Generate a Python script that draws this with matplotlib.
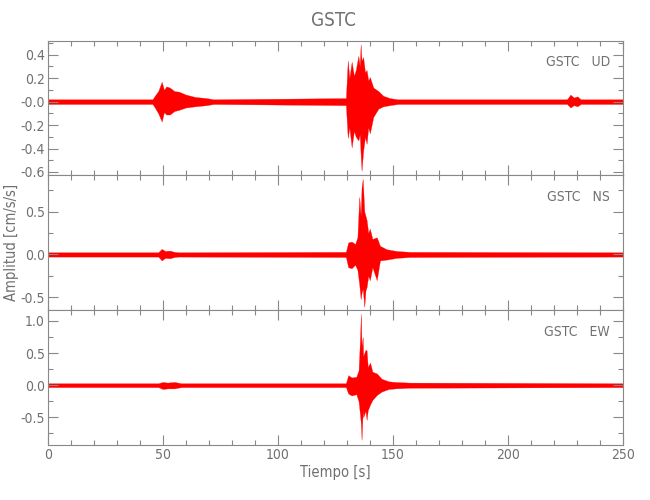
import matplotlib
matplotlib.use("Agg")
import matplotlib.pyplot as plt
from matplotlib.ticker import MultipleLocator, FixedLocator, FixedFormatter

plt.rcParams['font.family'] = ['DejaVu Sans']
plt.rcParams['font.stretch'] = 'condensed'

station = "GSTC"
components = ["UD", "NS", "EW"]

# envelope of each trace (seconds, upper / lower amplitude in cm/s/s)
t_ud = [0, 45.5, 46.5, 48, 49.5, 50.5, 51.5, 53, 55, 57, 60, 64, 69, 72,
        129.5, 130.3, 131, 132, 133, 133.8, 134.9, 135.5, 135.9, 136.3, 137,
        137.8, 138.5, 139.2, 139.9, 141.4, 143.6, 145.7, 148.6, 152,
        225.5, 227, 228.5, 230, 231.5, 250]
up_ud = [0.02, 0.02, 0.05, 0.09, 0.17, 0.10, 0.13, 0.12, 0.09, 0.085, 0.06, 0.04, 0.03, 0.02,
         0.03, 0.35, 0.20, 0.34, 0.22, 0.27, 0.39, 0.30, 0.49, 0.35, 0.38,
         0.25, 0.27, 0.18, 0.21, 0.12, 0.09, 0.05, 0.03, 0.02,
         0.02, 0.06, 0.035, 0.045, 0.02, 0.02]
lo_ud = [-0.02, -0.02, -0.05, -0.10, -0.17, -0.09, -0.11, -0.11, -0.08, -0.07, -0.05, -0.04, -0.03, -0.02,
         -0.03, -0.31, -0.22, -0.39, -0.25, -0.30, -0.33, -0.28, -0.45, -0.59, -0.42,
         -0.30, -0.36, -0.22, -0.27, -0.13, -0.06, -0.04, -0.03, -0.02,
         -0.02, -0.05, -0.03, -0.04, -0.02, -0.02]

t_ns = [0, 48, 49.5, 51, 53, 55, 57,
        129.5, 130.5, 132, 133.5, 134.5, 135.3, 135.9, 136.3, 136.8, 137.5, 138,
        138.5, 139.2, 139.9, 141, 142.9, 144.3, 147.2, 151.5, 157.3, 250]
up_ns = [0.025, 0.025, 0.065, 0.04, 0.045, 0.03, 0.025,
         0.03, 0.14, 0.15, 0.12, 0.20, 0.67, 0.45, 0.78, 0.88, 0.50, 0.45,
         0.40, 0.25, 0.30, 0.18, 0.20, 0.10, 0.06, 0.04, 0.03, 0.025]
lo_ns = [-0.025, -0.025, -0.07, -0.04, -0.045, -0.03, -0.025,
         -0.03, -0.15, -0.16, -0.12, -0.18, -0.35, -0.52, -0.45, -0.40, -0.61, -0.42,
         -0.38, -0.25, -0.30, -0.15, -0.30, -0.07, -0.06, -0.04, -0.03, -0.025]

t_ew = [0, 48, 50, 52, 55, 58,
        129.5, 130.5, 132, 134, 135, 135.6, 136.0, 136.3, 136.8, 137, 138,
        138.5, 139, 140, 141, 143, 145, 148, 151, 157, 250]
up_ew = [0.03, 0.03, 0.05, 0.04, 0.05, 0.03,
         0.03, 0.155, 0.12, 0.13, 0.23, 0.70, 1.11, 0.60, 0.75, 0.45, 0.55,
         0.54, 0.28, 0.35, 0.21, 0.18, 0.10, 0.06, 0.05, 0.04, 0.03]
lo_ew = [-0.03, -0.03, -0.06, -0.05, -0.05, -0.03,
         -0.03, -0.13, -0.16, -0.14, -0.25, -0.45, -0.60, -0.85, -0.39, -0.50, -0.40,
         -0.54, -0.39, -0.30, -0.23, -0.15, -0.10, -0.06, -0.05, -0.04, -0.03]

traces = [(t_ud, up_ud, lo_ud), (t_ns, up_ns, lo_ns), (t_ew, up_ew, lo_ew)]
ylims = [(-0.63, 0.52), (-0.65, 0.92), (-0.93, 1.165)]
ymajor = [[-0.6, -0.4, -0.2, 0.0, 0.2, 0.4], [-0.5, 0.0, 0.5], [-0.5, 0.0, 0.5, 1.0]]
ylabels = [["-0.6", "-0.4", "-0.2", "-0.0", "0.2", "0.4"], ["-0.5", "0.0", "0.5"],
           ["-0.5", "0.0", "0.5", "1.0"]]
yminor = [0.1, 0.25, 0.25]

gray = "#888888"
tcol = "#707070"

fig = plt.figure(figsize=(6.5, 5), dpi=100)
left, right = 0.0734, 0.959
bottom, top = 0.11, 0.9186
h = (top - bottom) / 3

for i, (t, up, lo) in enumerate(traces):
    ax = fig.add_axes([left, top - (i + 1) * h, right - left, h])
    ax.fill_between(t, lo, up, color="red", linewidth=0.2, edgecolor="red")
    ax.set_xlim(0, 250)
    ax.set_ylim(*ylims[i])
    ax.xaxis.set_major_locator(MultipleLocator(50))
    ax.xaxis.set_minor_locator(MultipleLocator(10))
    ax.yaxis.set_major_locator(FixedLocator(ymajor[i]))
    ax.yaxis.set_major_formatter(FixedFormatter(ylabels[i]))
    ax.yaxis.set_minor_locator(MultipleLocator(yminor[i]))
    ax.tick_params(which="both", direction="in", top=True, right=True,
                   color=gray, labelcolor=tcol, labelsize=10, width=0.8, pad=2)
    ax.tick_params(which="major", length=7)
    ax.tick_params(which="minor", length=3.5)
    for s in ax.spines.values():
        s.set_color(gray)
        s.set_linewidth(0.8)
    if i < 2:
        ax.tick_params(labelbottom=False)
    else:
        ax.set_xlabel("Tiempo [s]", color=tcol, fontsize=10.5, labelpad=2)
    if i == 1:
        ax.set_ylabel("Amplitud [cm/s/s]", color=tcol, fontsize=10.5, labelpad=1)
    ax.text(0.977, 0.84, station + "   " + components[i], transform=ax.transAxes,
            ha="right", va="center", color=tcol, fontsize=10)

fig.text(0.513, 0.96, station, ha="center", va="center", color=tcol, fontsize=13.5)

fig.savefig("out.png", dpi=100)
